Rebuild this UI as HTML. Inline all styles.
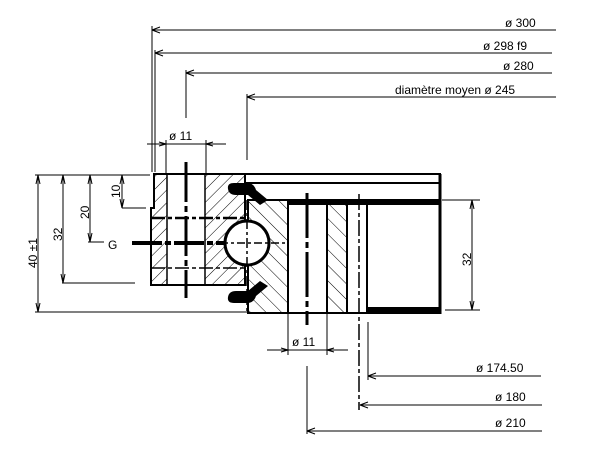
<!DOCTYPE html>
<html><head><meta charset="utf-8"><style>
html,body{margin:0;padding:0;background:#fff;overflow:hidden;}
svg{display:block;}
text{font-family:"Liberation Sans",sans-serif;font-size:12px;fill:#000;}
</style></head><body>
<svg width="600" height="466" viewBox="0 0 600 466" xmlns="http://www.w3.org/2000/svg">
<defs>
<pattern id="h" width="9" height="9" patternUnits="userSpaceOnUse" patternTransform="rotate(45)">
<line x1="0" y1="0" x2="0" y2="9" stroke="#000" stroke-width="1"/></pattern>
<pattern id="h2" width="11" height="11" patternUnits="userSpaceOnUse" patternTransform="rotate(-45)">
<line x1="0" y1="0" x2="0" y2="11" stroke="#000" stroke-width="1"/></pattern>
</defs>
<g stroke="#000" fill="none" stroke-width="1">
<line x1="152" y1="30" x2="556" y2="30"/><line x1="152" y1="26" x2="152" y2="172"/>
<line x1="155" y1="53" x2="552" y2="53"/><line x1="155" y1="50" x2="155" y2="172"/>
<line x1="186" y1="73" x2="552" y2="73"/><line x1="186" y1="70" x2="186" y2="118"/>
<line x1="247" y1="97" x2="556" y2="97"/><line x1="247" y1="94" x2="247" y2="160"/>
<path d="M152 30 l8 -3 M152 30 l8 3 M155 53 l8 -3 M155 53 l8 3 M186 73 l8 -3 M186 73 l8 3 M247 97 l8 -3 M247 97 l8 3"/>
<line x1="147" y1="144" x2="226" y2="144"/>
<line x1="166" y1="140" x2="166" y2="174"/><line x1="206" y1="140" x2="206" y2="174"/>
<path d="M166 144 l-7 -2 M166 144 l-7 2 M206 144 l7 -2 M206 144 l7 2"/>
<line x1="35" y1="175" x2="150" y2="175"/>
<line x1="35" y1="312" x2="248" y2="312"/>
<line x1="62" y1="283" x2="135" y2="283"/>
<line x1="122" y1="208" x2="146" y2="208"/>
<line x1="88" y1="242" x2="104" y2="242"/>
<line x1="38" y1="175" x2="38" y2="312"/>
<line x1="63" y1="175" x2="63" y2="283"/>
<line x1="90" y1="175" x2="90" y2="242"/>
<line x1="122" y1="175" x2="122" y2="208"/>
<path d="M38 175 l-2 9 M38 175 l2 9 M38 312 l-2 -9 M38 312 l2 -9 M63 175 l-2 9 M63 175 l2 9 M63 283 l-2 -9 M63 283 l2 -9 M90 175 l-2 9 M90 175 l2 9 M90 242 l-2 -9 M90 242 l2 -9 M122 175 l-2 9 M122 175 l2 9 M122 208 l-2 -9 M122 208 l2 -9"/>
<line x1="442" y1="200" x2="480" y2="200"/><line x1="445" y1="310" x2="480" y2="310"/>
<line x1="472" y1="200" x2="472" y2="310"/>
<path d="M472 200 l-2 9 M472 200 l2 9 M472 310 l-2 -9 M472 310 l2 -9"/>
<line x1="267" y1="350" x2="348" y2="350"/>
<line x1="288" y1="313" x2="288" y2="355"/><line x1="327" y1="313" x2="327" y2="355"/>
<path d="M288 350 l-7 -2 M288 350 l-7 2 M327 350 l7 -2 M327 350 l7 2"/>
<line x1="368" y1="376" x2="541" y2="376"/><line x1="368" y1="322" x2="368" y2="380"/>
<line x1="360" y1="405" x2="542" y2="405"/>
<line x1="307" y1="366" x2="307" y2="434"/><line x1="307" y1="431" x2="542" y2="431"/>
<path d="M368 376 l8 -3 M368 376 l8 3 M360 405 l8 -3 M360 405 l8 3 M307 431 l8 -3 M307 431 l8 3"/>
</g>
<g>
<text x="505" y="27">ø 300</text>
<text x="483" y="50">ø 298 f9</text>
<text x="503" y="70">ø 280</text>
<text x="395" y="94">diamètre moyen ø 245</text>
<text x="169" y="140">ø 11</text>
<text x="292" y="346">ø 11</text>
<text x="476" y="372">ø 174.50</text>
<text x="495" y="401">ø 180</text>
<text x="495" y="427">ø 210</text>
<text x="108" y="249" font-size="15">G</text>
<text transform="translate(37,268) rotate(-90)">40 ±1</text>
<text transform="translate(62,241) rotate(-90)">32</text>
<text transform="translate(89,219) rotate(-90)">20</text>
<text transform="translate(120,198) rotate(-90)" font-size="10">10</text>
<text transform="translate(471,266) rotate(-90)">32</text>
</g>
<g>
<path d="M154 174 H245 V285 H151 V208 H154 Z" fill="url(#h)" stroke="#000" stroke-width="2"/>
<rect x="167" y="175" width="38" height="109" fill="#fff"/>
<line x1="167" y1="174" x2="167" y2="285" stroke="#000" stroke-width="1.5"/>
<line x1="205" y1="174" x2="205" y2="285" stroke="#000" stroke-width="1.5"/>
<line x1="151" y1="218" x2="245" y2="218" stroke="#000" stroke-width="2.5" stroke-dasharray="14 3 4 3"/>
<line x1="151" y1="268" x2="245" y2="268" stroke="#000" stroke-width="1.5" stroke-dasharray="14 3 4 3"/>
<line x1="186" y1="162" x2="186" y2="298" stroke="#000" stroke-width="3" stroke-dasharray="40 4 6 4"/>
<line x1="132" y1="243" x2="238" y2="243" stroke="#000" stroke-width="4" stroke-dasharray="30 3 6 3"/>
<rect x="245" y="174" width="195" height="9" fill="#fff" stroke="#000" stroke-width="2"/>
<path d="M248 200 H440 V313 H248 Z" fill="#fff" stroke="#000" stroke-width="2"/>
<rect x="248" y="200" width="40" height="113" fill="url(#h2)"/>
<rect x="327" y="200" width="20" height="113" fill="url(#h2)"/>
<g stroke="#000" stroke-width="2"><line x1="288" y1="200" x2="288" y2="313"/><line x1="327" y1="200" x2="327" y2="313"/><line x1="347" y1="200" x2="347" y2="313"/><line x1="367" y1="200" x2="367" y2="313"/></g>
<rect x="288" y="199" width="152" height="6" fill="#000"/>
<rect x="367" y="307" width="73" height="7" fill="#000"/>
<line x1="440" y1="174" x2="440" y2="314" stroke="#000" stroke-width="3"/>
<line x1="307" y1="193" x2="307" y2="325" stroke="#000" stroke-width="3" stroke-dasharray="45 4 6 4"/>
<line x1="359" y1="194" x2="359" y2="410" stroke="#000" stroke-width="1.5" stroke-dasharray="16 3 4 3"/>
<path d="M234 183 q-7 0 -6 6 q1 6 8 6 h12 l12 10 l8 -5 l-12 -10 q-2 -7 -9 -7 z" fill="#000"/>
<path d="M234 303 q-7 0 -6 -6 q1 -6 8 -6 h12 l12 -10 l8 5 l-12 10 q-2 7 -9 7 z" fill="#000"/>
<circle cx="247" cy="243" r="22" fill="#fff" stroke="#000" stroke-width="3"/>
<line x1="220" y1="243" x2="285" y2="243" stroke="#000" stroke-width="1.5" stroke-dasharray="8 3 3 3"/>
<line x1="247" y1="200" x2="247" y2="313" stroke="#000" stroke-width="1.5" stroke-dasharray="10 3 3 3"/>
</g>
</svg>
</body></html>
